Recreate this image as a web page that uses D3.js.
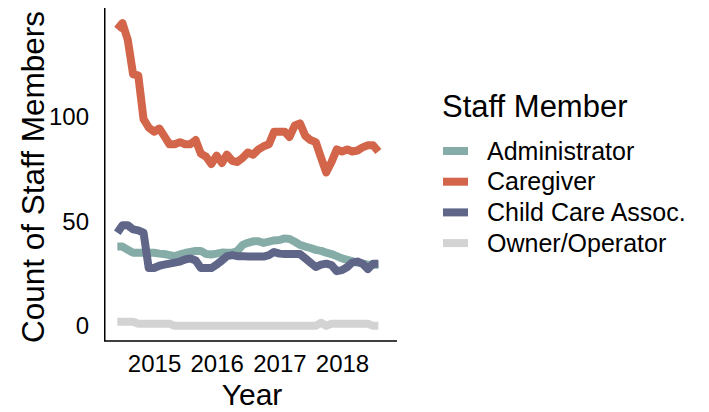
<!DOCTYPE html>
<html>
<head>
<meta charset="utf-8">
<script src="https://cdn.jsdelivr.net/npm/d3@7"></script>
<style>
  body { margin: 0; background: #fff; }
  text { font-family: "Liberation Sans", Arial, sans-serif; fill: #000; }
</style>
</head>
<body>
<div id="chart"></div>
<script>
// monthly counts, Jun 2014 .. Aug 2018
const startMonth = new Date(2014, 5, 1);
const endMonth = new Date(2018, 9, 1);
const yearTicks = ['2015', '2016', '2017', '2018'];
const countTicks = [0, 50, 100];

const administrator = [38, 38, 36.4, 35, 35, 35, 35, 35, 34.6, 34.4, 33.9, 33.4, 34.2, 34.9, 35.4, 35.9,
  35.9, 34.4, 34.2, 34.6, 35.1, 35, 35, 35.9, 38.8, 39.8, 40.5, 40.5, 39.7, 40.3, 40.9, 41.1,
  41.9, 41.6, 40.3, 38.8, 38, 37.3, 36.4, 35.9, 35.1, 34.4, 33.4, 32.3, 31.6, 31, 30.3, 29.8,
  29.3, 29.3, 29.3];
const caregiver = [142, 145, 137, 120.5, 120, 99, 95, 93, 94.5, 91, 87, 87, 88, 87, 87, 89,
  82.5, 81, 77.5, 81.5, 78, 82, 79, 78.5, 80.5, 83, 82, 84.5, 86, 87, 93, 93,
  93, 90.5, 96, 97, 91, 89, 88, 80.5, 73.5, 78.5, 84.5, 83.5, 84.5, 83.5, 84, 85.5,
  86.5, 86.5, 83.5];
const childCareAssoc = [44.6, 48.2, 48.2, 46.2, 45.7, 44.6, 27.7, 27.7, 28.8, 29.3, 29.8, 30.3, 30.8, 31.8, 32.3, 31.3,
  27.7, 27.7, 27.7, 29.3, 31.3, 33.4, 33.9, 33.4, 33.4, 33.2, 33.2, 33.2, 33.2, 33.9, 35.4, 34.6,
  34.4, 34.4, 34.4, 34.4, 32.3, 30.3, 28.2, 29.3, 29.8, 29.1, 26.2, 26.7, 28.2, 30.3, 30.8, 29.8,
  27.2, 29.8, 29.8];
const ownerOperator = [2, 2, 2, 2, 1, 1, 1, 1, 1, 1, 1, 0, 0, 0, 0, 0,
  0, 0, 0, 0, 0, 0, 0, 0, 0, 0, 0, 0, 0, 0, 0, 0,
  0, 0, 0, 0, 0, 0, 0, 1.5, 0, 1, 1, 1, 1, 1, 1, 1,
  1, 0, 0];

const seriesNames = ['Administrator', 'Caregiver', 'Child Care Assoc.', 'Owner/Operator'];
const seriesColors = ['#86aca8', '#d3654a', '#5f6688', '#d3d3d3'];

const months = d3.timeMonth.range(startMonth, endMonth);
const series = [administrator, caregiver, childCareAssoc, ownerOperator].map((values, i) => ({
  name: seriesNames[i],
  color: seriesColors[i],
  points: values.map((v, j) => ({ date: months[j], value: v }))
}));

const width = 709;
const height = 412;
const panel = { left: 104, right: 397, top: 8, bottom: 341 };

const svg = d3.select('#chart').append('svg')
  .attr('width', width)
  .attr('height', height);

// ggplot-like 5% expansion
const expand = (ext) => {
  const pad = (ext[1] - ext[0]) * 0.05;
  return [ext[0] - pad, ext[1] + pad];
};
const allValues = series.flatMap((s) => s.points.map((p) => p.value));
const xExt = d3.extent(months).map((d) => +d);

const x = d3.scaleTime()
  .domain(expand(xExt).map((t) => new Date(t)))
  .range([panel.left, panel.right]);
const y = d3.scaleLinear()
  .domain(expand(d3.extent(allValues)))
  .range([panel.bottom, panel.top]);

const line = d3.line()
  .x((d) => x(d.date))
  .y((d) => y(d.value));

svg.append('g')
  .selectAll('path')
  .data(series)
  .enter()
  .append('path')
  .attr('fill', 'none')
  .attr('stroke', (d) => d.color)
  .attr('stroke-width', 8)
  .attr('stroke-linejoin', 'round')
  .attr('d', (d) => line(d.points));

// axes
const xAxis = d3.axisBottom(x)
  .tickValues(yearTicks.map((t) => new Date(+t, 0, 1)))
  .tickFormat(d3.timeFormat('%Y'))
  .tickSize(0)
  .tickPadding(14);
const gx = svg.append('g')
  .attr('transform', `translate(0, ${panel.bottom})`)
  .call(xAxis);
gx.select('.domain').remove();
gx.selectAll('text').attr('font-size', 24).attr('fill', '#000');

const yAxis = d3.axisLeft(y)
  .tickValues(countTicks)
  .tickSize(0)
  .tickPadding(15);
const gy = svg.append('g')
  .attr('transform', `translate(${panel.left}, 0)`)
  .call(yAxis);
gy.select('.domain').remove();
gy.selectAll('text').attr('font-size', 24).attr('fill', '#000');
svg.selectAll('.tick text').style('font-family', '"Liberation Sans", Arial, sans-serif');

// axis lines
svg.append('path')
  .attr('fill', 'none')
  .attr('stroke', '#000')
  .attr('stroke-width', 1.5)
  .attr('d', `M${panel.left + 0.75},${panel.top}V${panel.bottom}H${panel.right}`);

// titles
svg.append('text')
  .attr('x', 252)
  .attr('y', 405)
  .attr('text-anchor', 'middle')
  .attr('font-size', 30)
  .text('Year');

svg.append('text')
  .attr('transform', 'translate(44, 177) rotate(-90)')
  .attr('text-anchor', 'middle')
  .attr('font-size', 31.5)
  .text('Count of Staff Members');

// legend
const legend = svg.append('g')
  .attr('transform', 'translate(442, 0)');

legend.append('text')
  .attr('x', 0)
  .attr('y', 117)
  .attr('font-size', 31)
  .text('Staff Member');

const rows = legend.selectAll('.row')
  .data(series)
  .enter()
  .append('g')
  .attr('class', 'row')
  .attr('transform', (d, i) => `translate(0, ${151 + i * 30.7})`);

rows.append('line')
  .attr('x1', 1)
  .attr('x2', 26)
  .attr('y1', 0)
  .attr('y2', 0)
  .attr('stroke', (d) => d.color)
  .attr('stroke-width', 8);

rows.append('text')
  .attr('x', 45)
  .attr('y', 0)
  .attr('dy', '0.35em')
  .attr('font-size', 25)
  .text((d) => d.name);
</script>
</body>
</html>
